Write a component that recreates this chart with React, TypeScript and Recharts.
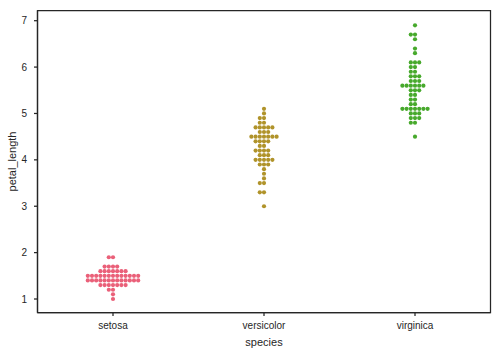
import React from 'react';
import { ScatterChart, Scatter, XAxis, YAxis, ReferenceArea } from 'recharts';

const species = ['setosa', 'versicolor', 'virginica'];
const setosa = [1.4,1.4,1.3,1.5,1.4,1.7,1.4,1.5,1.4,1.5,1.5,1.6,1.4,1.1,1.2,1.5,1.3,1.4,1.7,1.5,1.7,1.5,1.0,1.7,1.9,1.6,1.6,1.5,1.4,1.6,1.6,1.5,1.5,1.4,1.5,1.2,1.3,1.4,1.3,1.5,1.3,1.3,1.3,1.6,1.9,1.4,1.6,1.4,1.5,1.4];
const versicolor = [4.7,4.5,4.9,4.0,4.6,4.5,4.7,3.3,4.6,3.9,3.5,4.2,4.0,4.7,3.6,4.4,4.5,4.1,4.5,3.9,4.8,4.0,4.9,4.7,4.3,4.4,4.8,5.0,4.5,3.5,3.8,3.7,3.9,5.1,4.5,4.5,4.7,4.4,4.1,4.0,4.4,4.6,4.0,3.3,4.2,4.2,4.2,4.3,3.0,4.1];
const virginica = [6.0,5.1,5.9,5.6,5.8,6.6,4.5,6.3,5.8,6.1,5.1,5.3,5.5,5.0,5.1,5.3,5.5,6.7,6.9,5.0,5.7,4.9,6.7,4.9,5.7,6.0,4.8,4.9,5.6,5.8,6.1,6.4,5.6,5.1,5.6,6.1,5.6,5.5,4.8,5.4,5.6,5.1,5.1,5.9,5.7,5.2,5.0,5.2,5.4,5.1];
const colors = ['#ea6079', '#b0932a', '#47a92c'];
const yTicks = [1, 2, 3, 4, 5, 6, 7];
const xTicks = [0, 1, 2];

const W = 500;
const H = 354;
const M = { top: 10.5, right: 9.5, left: 0, bottom: 0 };
const Y_AXIS_W = 37.5;
const X_AXIS_H = 41.5;
const Y_DOMAIN: [number, number] = [0.709, 7.22];
const X_DOMAIN: [number, number] = [-0.5, 2.5];
const DOT_D = 4.2;
const INK = '#262626';

type P = { x: number; y: number; v: number };

function swarm(values: number[], catIndex: number) {
  const plotW = W - M.left - M.right - Y_AXIS_W;
  const plotH = H - M.top - M.bottom - X_AXIS_H;
  const pxX = plotW / (X_DOMAIN[1] - X_DOMAIN[0]);
  const pxY = plotH / (Y_DOMAIN[1] - Y_DOMAIN[0]);
  const sorted = [...values].sort((a, b) => a - b);
  const placed: P[] = [];
  const d = 4;
  for (const v of sorted) {
    const y = v * pxY;
    const neighbors = placed.filter((p) => Math.abs(p.y - y) < d);
    const cands: number[] = [0];
    let leftFirst = true;
    for (const n of neighbors) {
      const dy = y - n.y;
      const dx = Math.sqrt(Math.max(d * d - dy * dy, 0)) * 1.05;
      if (leftFirst) cands.push(n.x - dx, n.x + dx);
      else cands.push(n.x + dx, n.x - dx);
      leftFirst = !leftFirst;
    }
    const order = cands.map((c, i) => ({ c, i }));
    order.sort((a, b) => Math.abs(a.c) - Math.abs(b.c) || a.i - b.i);
    let chosen = 0;
    for (const { c } of order) {
      if (neighbors.every((n) => (n.x - c) ** 2 + (n.y - y) ** 2 >= d * d - 1e-6)) {
        chosen = c;
        break;
      }
    }
    placed.push({ x: chosen, y, v });
  }
  return placed.map((p) => ({ x: catIndex + p.x / pxX, y: p.v }));
}

const makeShape = (color: string) => (props: any) => (
  <circle cx={props.cx} cy={props.cy} r={DOT_D / 2} fill={color} />
);

export default function App() {
  const series = [setosa, versicolor, virginica].map((vals, i) => swarm(vals, i));
  const lineStyle = { stroke: INK, strokeWidth: 1.25 };
  return (
    <div style={{ position: 'absolute', left: 0, top: 0, width: W, height: H, background: '#fff', fontFamily: '"Liberation Sans", Arial, sans-serif' }}>
      <ScatterChart width={W} height={H} margin={M}>
        <XAxis
          type="number"
          dataKey="x"
          domain={X_DOMAIN}
          ticks={xTicks}
          allowDataOverflow
          tickFormatter={(v: number) => species[v]}
          height={X_AXIS_H}
          tickSize={3.5}
          tickMargin={6}
          axisLine={lineStyle}
          tickLine={lineStyle}
          tick={{ fill: INK, fontSize: 10 }}
          label={{ value: 'species', position: 'insideBottom', offset: 8, fill: INK, fontSize: 11 }}
        />
        <YAxis
          type="number"
          dataKey="y"
          domain={Y_DOMAIN}
          ticks={yTicks}
          allowDataOverflow
          width={Y_AXIS_W}
          tickSize={3.5}
          tickMargin={7}
          axisLine={lineStyle}
          tickLine={lineStyle}
          tick={{ fill: INK, fontSize: 10 }}
          label={{ value: 'petal_length', angle: -90, position: 'insideLeft', offset: 12, fill: INK, fontSize: 11, style: { textAnchor: 'middle' } }}
        />
        <ReferenceArea x1={X_DOMAIN[0]} x2={X_DOMAIN[1]} y1={Y_DOMAIN[0]} y2={Y_DOMAIN[1]} fill="none" fillOpacity={0} stroke={INK} strokeWidth={1.25} />
        {series.map((d, i) => (
          <Scatter key={species[i]} data={d} fill={colors[i]} isAnimationActive={false} shape={makeShape(colors[i])} />
        ))}
      </ScatterChart>
    </div>
  );
}
